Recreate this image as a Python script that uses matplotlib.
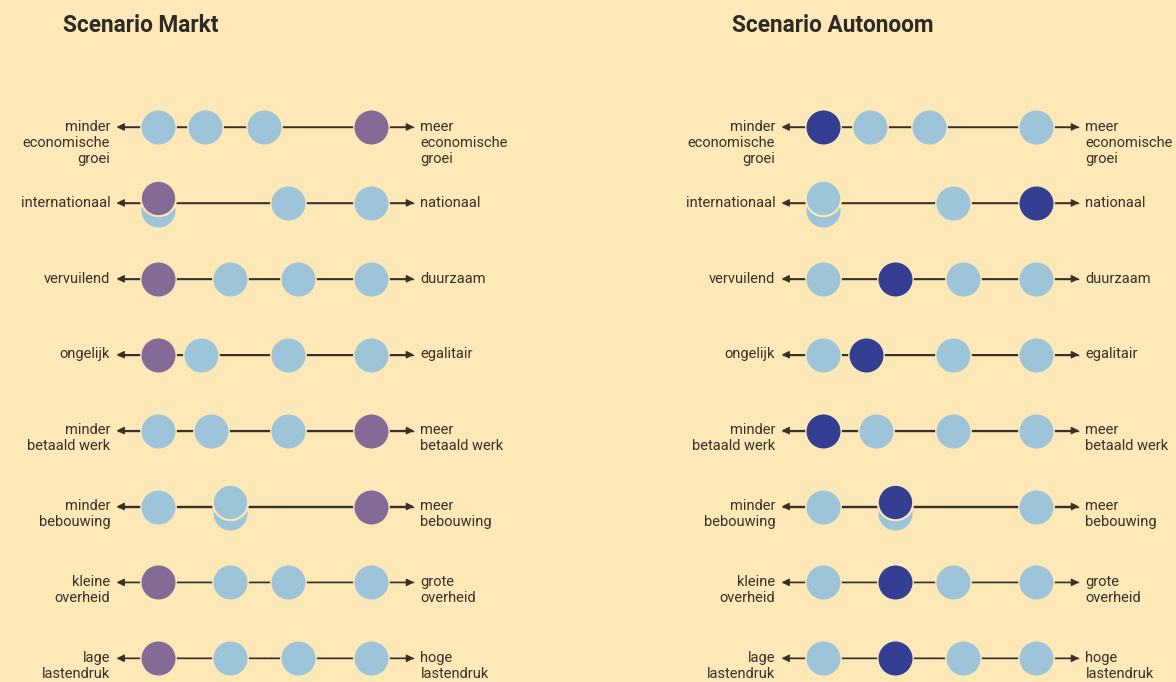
import matplotlib
matplotlib.use("Agg")
import matplotlib.pyplot as plt

plt.rcParams['font.family'] = ['Roboto', 'DejaVu Sans']

# dimensies (links / rechts)
left_labels = ["minder\neconomische\ngroei", "internationaal", "vervuilend", "ongelijk",
               "minder\nbetaald werk", "minder\nbebouwing", "kleine\noverheid", "lage\nlastendruk"]
right_labels = ["meer\neconomische\ngroei", "nationaal", "duurzaam", "egalitair",
                "meer\nbetaald werk", "meer\nbebouwing", "grote\noverheid", "hoge\nlastendruk"]

# posities van de vier scenario's op elke as (0 = links, 100 = rechts)
markt = [100, 0, 0, 0, 100, 100, 0, 0]
autonoom = [0, 100, 34, 20, 0, 34, 34, 34]
scenario_c = [22, 0, 66, 61, 25, 0, 61, 66]
scenario_d = [50, 61, 100, 100, 61, 34, 100, 100]

bg = "#fde8b8"
light = "#9dc4d9"
purple = "#846b97"
navy = "#343e93"
ink = "#3a3028"

W, H = 1176, 682
fig = plt.figure(figsize=(W / 100, H / 100), dpi=100, facecolor=bg)

px_per_unit = 2.125
row_px0, row_step = 127, 75.9
line_step = 16 / row_step


def put_label(ax, x, y, txt, ha):
    # elke regel apart, eerste regel op de hoogte van de as
    for k, line in enumerate(txt.split("\n")):
        ax.text(x, y + 0.05 + k * line_step, line, ha=ha, va="baseline",
                fontsize=10.5, color=ink)


def draw_panel(ax, origin_px, hl_values, hl_color, others):
    ax.set_facecolor(bg)
    ax.set_xlim(-origin_px / px_per_unit, (W / 2 - origin_px) / px_per_unit)
    ax.set_ylim((H - row_px0) / row_step, -row_px0 / row_step)
    ax.axis("off")
    for i in range(len(left_labels)):
        ax.plot([-19, 120], [i, i], color=ink, lw=1.0, zorder=1)
        for end in (-19.5, 120.5):
            ax.annotate("", xy=(end, i), xytext=(50, i),
                        arrowprops=dict(arrowstyle="-|>", color=ink, lw=1.0,
                                        mutation_scale=11, shrinkA=0, shrinkB=0),
                        zorder=1)
        put_label(ax, -22.5, i, left_labels[i], "right")
        put_label(ax, 123.5, i, right_labels[i], "left")

        pts = [(hl_values[i], hl_color)] + [(o[i], light) for o in others]
        seen = {}
        for v, c in pts:
            seen.setdefault(v, []).append(c)
        for v, cols in seen.items():
            if len(cols) == 1:
                ax.scatter([v], [i], s=650, color=cols[0], edgecolor=bg, lw=1.0, zorder=3)
            else:
                # overlappende scenario's: onderste iets lager, bovenste iets hoger
                ax.scatter([v], [i + 0.09], s=650, color=cols[1], edgecolor=bg, lw=1.0, zorder=3)
                ax.scatter([v], [i - 0.065], s=650, color=cols[0], edgecolor=bg, lw=1.5, zorder=4)


ax1 = fig.add_axes([0, 0, 0.5, 1])
draw_panel(ax1, 158, markt, purple, [autonoom, scenario_c, scenario_d])
ax2 = fig.add_axes([0.5, 0, 0.5, 1])
draw_panel(ax2, 823 - W / 2, autonoom, navy, [markt, scenario_c, scenario_d])

fig.text(63 / W, 1 - 25 / H, "Scenario Markt", ha="left", va="center",
         fontsize=16.3, fontweight="bold", color="#2e2a26")
fig.text(732 / W, 1 - 25 / H, "Scenario Autonoom", ha="left", va="center",
         fontsize=16.3, fontweight="bold", color="#2e2a26")

fig.savefig("out.png", dpi=100, facecolor=bg)
